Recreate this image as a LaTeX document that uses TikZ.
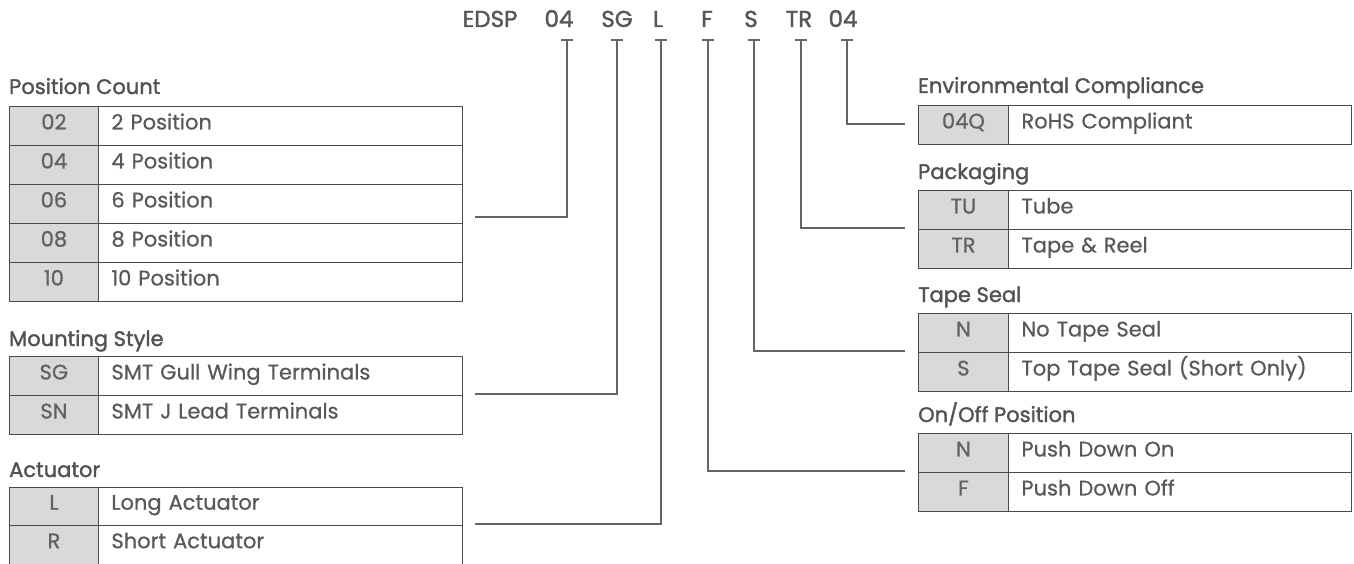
\documentclass[tikz,border=0pt]{standalone}
\usepackage{fontspec}
\setmainfont{Poppins}[FakeBold=0.6]
\newfontfamily\titlefont[FakeBold=1.6]{Poppins}
\newfontfamily\codefont[FakeBold=1.0]{Poppins}
\definecolor{linec}{HTML}{666666}
\definecolor{bordc}{HTML}{4A4A4A}
\definecolor{codefill}{HTML}{D9D9DB}
\definecolor{codec}{HTML}{626265}
\definecolor{descc}{HTML}{58585B}
\definecolor{titlec}{HTML}{515254}
\definecolor{headc}{HTML}{55565A}
\begin{document}
\begin{tikzpicture}[x=1pt,y=-1pt,
  font=\fontsize{21}{24}\selectfont,
  cell/.style={draw=bordc, line width=0.9pt, inner sep=0pt, minimum height=39pt,
    anchor=north west, text height=0.7em, text depth=0pt},
  lcode/.style={cell, fill=codefill, text=codec, minimum width=89pt, align=center, font=\fontsize{21}{24}\codefont},
  ldesc/.style={cell, fill=white, text=descc, inner xsep=13pt, text width=338pt, align=left},
  rcode/.style={cell, fill=codefill, text=codec, minimum width=90pt, align=center, font=\fontsize{21}{24}\codefont},
  rdesc/.style={cell, fill=white, text=descc, inner xsep=13pt, text width=317pt, align=left},
  ttl/.style={anchor=base west, inner sep=0pt, text=titlec, font=\fontsize{21}{24}\titlefont},
  head/.style={anchor=base, inner sep=0pt, text=headc, font=\fontsize{23}{26}\titlefont},
  conn/.style={draw=linec, line width=2.4pt},
  tbar/.style={draw=linec, line width=2.4pt}
]
\useasboundingbox (0,0) rectangle (1354,564);

% header
\node[head] (hE)  at (490,27) {EDSP};
\node[head] (h1)  at (559,27) {04};
\node[head] (h2)  at (617,27) {SG};
\node[head] (h3)  at (658,27) {L};
\node[head] (h4)  at (707,27) {F};
\node[head] (h5)  at (751,27) {S};
\node[head] (h6)  at (799,27) {TR};
\node[head] (h7)  at (843,27) {04};

% Position Count
\node[ttl] (tPC) at (9,94) {Position Count};
\node[lcode] (pc1) at (9,106) {02}; \node[ldesc] (pc1d) at (98,106) {2 Position};
\node[lcode] (pc2) at (9,145) {04}; \node[ldesc] (pc2d) at (98,145) {4 Position};
\node[lcode] (pc3) at (9,184) {06}; \node[ldesc] (pc3d) at (98,184) {6 Position};
\node[lcode] (pc4) at (9,223) {08}; \node[ldesc] (pc4d) at (98,223) {8 Position};
\node[lcode] (pc5) at (9,262) {10}; \node[ldesc] (pc5d) at (98,262) {10 Position};

% Mounting Style
\node[ttl] (tMS) at (9,346) {Mounting Style};
\node[lcode] (ms1) at (9,356) {SG}; \node[ldesc] (ms1d) at (98,356) {SMT Gull Wing Terminals};
\node[lcode] (ms2) at (9,395) {SN}; \node[ldesc] (ms2d) at (98,395) {SMT J Lead Terminals};

% Actuator
\node[ttl] (tAC) at (9,477) {Actuator};
\node[lcode, minimum height=38.5pt] (ac1) at (9,486.5) {L}; \node[ldesc, minimum height=38.5pt] (ac1d) at (98,486.5) {Long Actuator};
\node[lcode, minimum height=38.5pt] (ac2) at (9,525) {R}; \node[ldesc, minimum height=38.5pt] (ac2d) at (98,525) {Short Actuator};

% Environmental Compliance
\node[ttl] (tEC) at (918,93) {Environmental Compliance};
\node[rcode] (ec1) at (918,105) {04Q}; \node[rdesc] (ec1d) at (1008,105) {RoHS Compliant};

% Packaging
\node[ttl] (tPK) at (918,179) {Packaging};
\node[rcode] (pk1) at (918,190) {TU}; \node[rdesc] (pk1d) at (1008,190) {Tube};
\node[rcode] (pk2) at (918,229) {TR}; \node[rdesc] (pk2d) at (1008,229) {Tape \& Reel};

% Tape Seal
\node[ttl] (tTS) at (918,302) {Tape Seal};
\node[rcode] (ts1) at (918,313) {N}; \node[rdesc] (ts1d) at (1008,313) {No Tape Seal};
\node[rcode] (ts2) at (918,352) {S}; \node[rdesc] (ts2d) at (1008,352) {Top Tape Seal (Short Only)};

% On/Off Position
\node[ttl] (tOO) at (918,422) {On/Off Position};
\node[rcode] (oo1) at (918,433) {N}; \node[rdesc] (oo1d) at (1008,433) {Push Down On};
\node[rcode] (oo2) at (918,472) {F}; \node[rdesc] (oo2d) at (1008,472) {Push Down Off};

% tick coordinates
\coordinate (t1) at (567,40);
\coordinate (t2) at (617,40);
\coordinate (t3) at (661,40);
\coordinate (t4) at (708,40);
\coordinate (t5) at (754,40);
\coordinate (t6) at (801,40);
\coordinate (t7) at (847,40);
\foreach \t in {t1,t2,t3,t4,t5,t6,t7}
  \draw[tbar] ([xshift=-6pt]\t) -- ([xshift=6pt]\t);

% connector end coordinates
\coordinate (e1) at (475,217);
\coordinate (e2) at (475,394);
\coordinate (e3) at (475,524);
\coordinate (e4) at (905,471);
\coordinate (e5) at (905,351);
\coordinate (e6) at (905,228);
\coordinate (e7) at (905,124);

\draw[conn] (t1) |- (e1);
\draw[conn] (t2) |- (e2);
\draw[conn] (t3) |- (e3);
\draw[conn] (t4) |- (e4);
\draw[conn] (t5) |- (e5);
\draw[conn] (t6) |- (e6);
\draw[conn] (t7) |- (e7);
\end{tikzpicture}
\end{document}
